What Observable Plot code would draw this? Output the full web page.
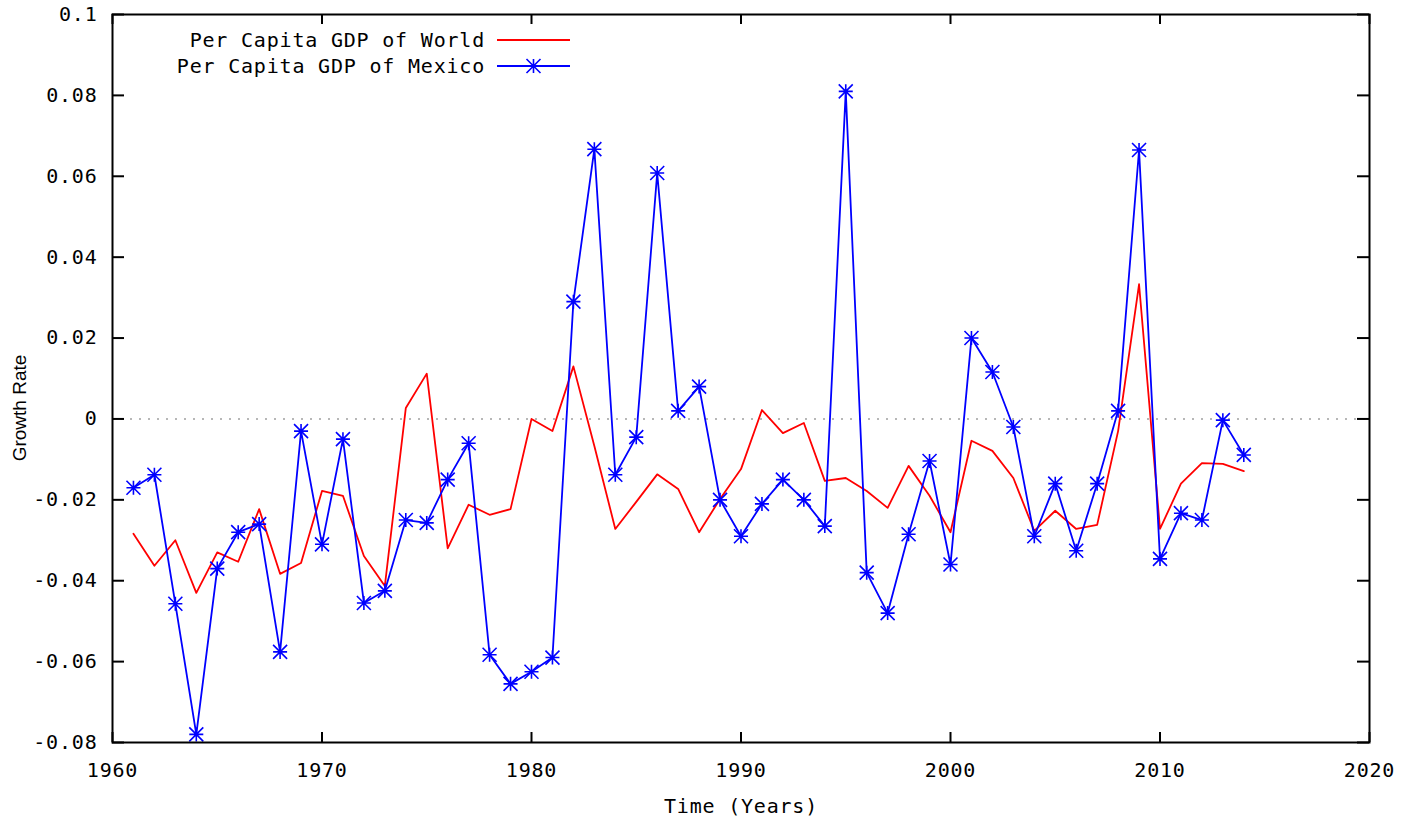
<!DOCTYPE html>
<html>
<head>
<meta charset="utf-8">
<script src="https://cdn.jsdelivr.net/npm/d3@7"></script>
<script src="https://cdn.jsdelivr.net/npm/@observablehq/plot@0.6"></script>
<style>
  html, body { margin: 0; padding: 0; background: #fff; }
  #wrap { position: relative; width: 1406px; height: 831px; }
  #legend { position: absolute; left: 0; top: 0; }
  #wrap svg text { letter-spacing: 0.8px; }
  #wrap svg text.ylab { letter-spacing: 0; }
</style>
</head>
<body>
<div id="wrap"></div>
<script>
// ---- data ----
const years = d3.range(1961, 2015);
const worldGrowth = [
  -0.0284, -0.0363, -0.0300, -0.0430, -0.0330, -0.0353, -0.0223, -0.0383, -0.0356, -0.0178,
  -0.0190, -0.0339, -0.0413,  0.0027,  0.0112, -0.0320, -0.0212, -0.0237, -0.0223,  0.0000,
  -0.0030,  0.0130, -0.0067, -0.0272, -0.0205, -0.0137, -0.0173, -0.0280, -0.0198, -0.0124,
   0.0022, -0.0035, -0.0010, -0.0153, -0.0146, -0.0178, -0.0220, -0.0116, -0.0190, -0.0280,
  -0.0054, -0.0079, -0.0146, -0.0277, -0.0227, -0.0272, -0.0262, -0.0030,  0.0333, -0.0272,
  -0.0160, -0.0109, -0.0111, -0.0129
];
const mexicoGrowth = [
  -0.0170, -0.0138, -0.0457, -0.0780, -0.0370, -0.0280, -0.0260, -0.0576, -0.0030, -0.0310,
  -0.0050, -0.0455, -0.0425, -0.0250, -0.0257, -0.0150, -0.0060, -0.0583, -0.0655, -0.0625,
  -0.0590,  0.0290,  0.0667, -0.0138, -0.0045,  0.0608,  0.0020,  0.0080, -0.0200, -0.0290,
  -0.0210, -0.0150, -0.0200, -0.0265,  0.0810, -0.0380, -0.0480, -0.0285, -0.0104, -0.0360,
   0.0200,  0.0116, -0.0020, -0.0290, -0.0160, -0.0326, -0.0160,  0.0020,  0.0665, -0.0346,
  -0.0233, -0.0250, -0.0003, -0.0089
];
const seriesNames = ["Per Capita GDP of World", "Per Capita GDP of Mexico"];
const seriesColors = ["#ff0000", "#0000ff"];
const xTicks = [1960, 1970, 1980, 1990, 2000, 2010, 2020];
const yTicks = [-0.08, -0.06, -0.04, -0.02, 0, 0.02, 0.04, 0.06, 0.08, 0.1];
const xLabel = "Time (Years)";
const yLabel = "Growth Rate";

const world = years.map((year, i) => ({year, value: worldGrowth[i]}));
const mexico = years.map((year, i) => ({year, value: mexicoGrowth[i]}));

// ---- layout ----
const W = 1406, H = 831;
const mL = 112, mR = 37, mT = 14, mB = 89;
const innerW = W - mL - mR, innerH = H - mT - mB;
const FONT = "'DejaVu Sans Mono', monospace";

// gnuplot-style point type 3 (plus + cross)
const starSymbol = {
  draw(context, size) {
    const r = Math.sqrt(size / Math.PI);
    context.moveTo(-r, -r); context.lineTo(r, r);
    context.moveTo(-r, r); context.lineTo(r, -r);
    context.moveTo(0, -r); context.lineTo(0, r);
    context.moveTo(-r, 0); context.lineTo(r, 0);
  }
};

const fmtY = d => String(+d.toFixed(2));

const chart = Plot.plot({
  width: W, height: H,
  marginLeft: mL, marginRight: mR, marginTop: mT, marginBottom: mB,
  style: {fontFamily: FONT, fontSize: "20px", background: "#fff", color: "#000", overflow: "visible"},
  x: {domain: [1960, 2020]},
  y: {domain: [-0.08, 0.1]},
  marks: [
    Plot.ruleY([0], {stroke: "#a0a0a0", strokeWidth: 1.5, strokeDasharray: "2,7"}),
    Plot.line(world, {x: "year", y: "value", stroke: seriesColors[0], strokeWidth: 1.8}),
    Plot.line(mexico, {x: "year", y: "value", stroke: seriesColors[1], strokeWidth: 1.8}),
    Plot.dot(mexico, {x: "year", y: "value", symbol: starSymbol, r: 7, stroke: seriesColors[1], strokeWidth: 1.6, fill: "none"}),
    Plot.frame({stroke: "#000", strokeWidth: 2}),
    Plot.tickY(yTicks, {y: d => d, insetRight: innerW - 12, stroke: "#000", strokeWidth: 2}),
    Plot.tickY(yTicks, {y: d => d, insetLeft: innerW - 12, stroke: "#000", strokeWidth: 2}),
    Plot.tickX(xTicks, {x: d => d, insetTop: innerH - 10, stroke: "#000", strokeWidth: 2}),
    Plot.tickX(xTicks, {x: d => d, insetBottom: innerH - 10, stroke: "#000", strokeWidth: 2}),
    Plot.axisY(yTicks, {tickSize: 0, tickPadding: 15, tickFormat: fmtY, label: null, fontSize: 20}),
    Plot.axisX(xTicks, {tickSize: 0, tickPadding: 20, tickFormat: d => String(d), label: null, fontSize: 20}),
    Plot.text([xLabel], {text: d => d, frameAnchor: "bottom", dy: 70, fontSize: 20})
  ]
});
document.getElementById("wrap").appendChild(chart);

// ---- overlay: y title and legend ----
const leg = d3.select("#wrap").append("svg")
  .attr("id", "legend").attr("width", W).attr("height", H)
  .style("pointer-events", "none");

leg.append("text").attr("class", "ylab")
  .attr("transform", `translate(19,${mT + innerH / 2 + 30}) rotate(-90)`)
  .attr("text-anchor", "middle").attr("dy", "0.35em")
  .attr("font-family", "'Liberation Sans', Arial, sans-serif").attr("font-size", 19)
  .attr("fill", "#000").text(yLabel);

const textRight = 485, lineX1 = 497, lineX2 = 570, row0 = 40, rowStep = 26;
seriesNames.forEach((name, i) => {
  const y = row0 + i * rowStep;
  leg.append("text").attr("x", textRight).attr("y", y).attr("dy", "0.35em")
    .attr("text-anchor", "end").attr("font-family", FONT).attr("font-size", 20)
    .attr("fill", "#000").text(name);
  leg.append("line").attr("x1", lineX1).attr("x2", lineX2).attr("y1", y).attr("y2", y)
    .attr("stroke", seriesColors[i]).attr("stroke-width", 1.8);
  if (i === 1) {
    const cx = (lineX1 + lineX2) / 2;
    const p = d3.path();
    starSymbol.draw(p, Math.PI * 49);
    leg.append("path").attr("d", p.toString()).attr("transform", `translate(${cx},${y})`)
      .attr("stroke", seriesColors[i]).attr("stroke-width", 1.6).attr("fill", "none");
  }
});
</script>
</body>
</html>
